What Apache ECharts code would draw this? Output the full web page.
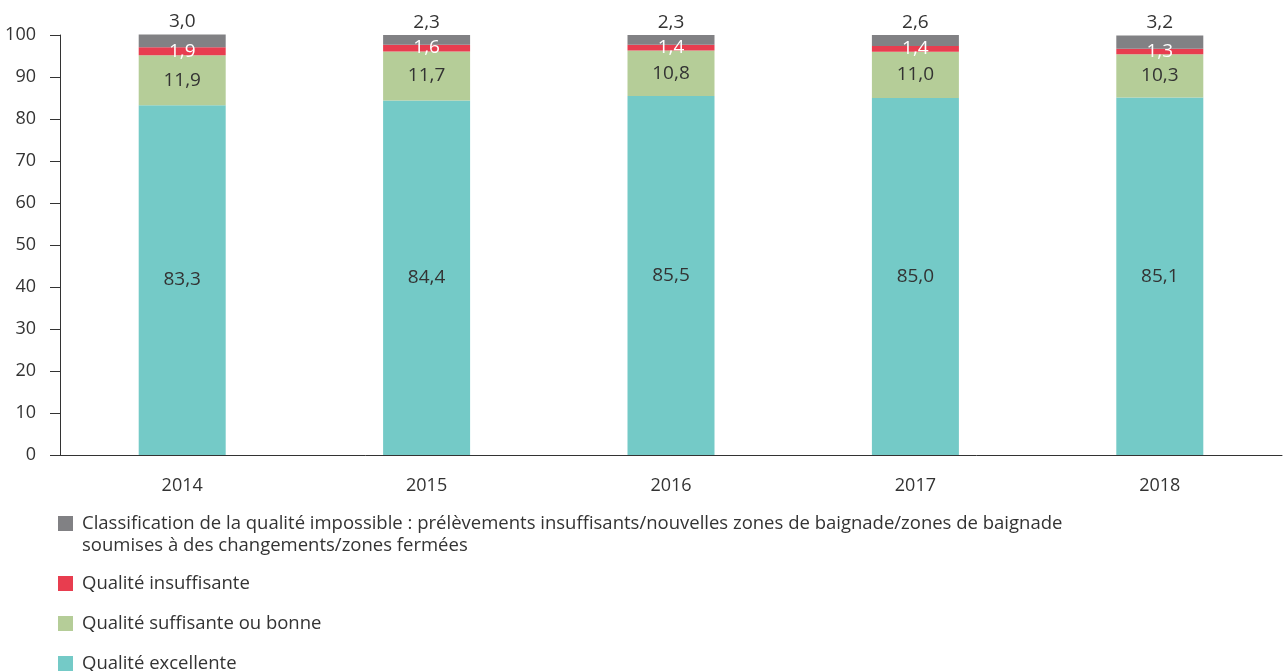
<!DOCTYPE html>
<html>
<head>
<meta charset="utf-8">
<script src="https://cdn.jsdelivr.net/npm/echarts@6/dist/echarts.min.js"></script>
<style>
  html, body { margin: 0; padding: 0; background: #fff; }
  #chart { width: 1286px; height: 671px; }
</style>
</head>
<body>
<div id="chart"></div>
<script>
var years = ['2014', '2015', '2016', '2017', '2018'];
var excellente = [83.3, 84.4, 85.5, 85.0, 85.1];
var suffisante = [11.9, 11.7, 10.8, 11.0, 10.3];
var insuffisante = [1.9, 1.6, 1.4, 1.4, 1.3];
var impossible = [3.0, 2.3, 2.3, 2.6, 3.2];

var names = [
    'Classification de la qualité impossible : prélèvements insuffisants/nouvelles zones de baignade/zones de baignade',
    'Qualité insuffisante',
    'Qualité suffisante ou bonne',
    'Qualité excellente'
];
var colors = ['#818184', '#e83d4f', '#b5cd98', '#74cac7'];

var font = '"Open Sans", "Noto Sans", sans-serif';
var fmt = function (p) { return p.value.toFixed(1).replace('.', ','); };

var myChart = echarts.init(document.getElementById('chart'));

// one legend per row, the first one has a second line of text below
function legendAt(i, top) {
    return {
        data: [names[i]],
        left: 58,
        top: top,
        padding: 0,
        itemWidth: 15,
        itemHeight: 15,
        icon: 'rect',
        selectedMode: false,
        textStyle: { fontFamily: font, fontSize: 18.5, color: '#333', padding: [0, 0, 0, 4] }
    };
}

function barSeries(i, data, label) {
    return {
        name: names[i],
        type: 'bar',
        stack: 'total',
        barWidth: 87,
        clip: false,
        itemStyle: { color: colors[i] },
        label: Object.assign({ show: true, formatter: fmt, fontFamily: font, fontSize: 19 }, label),
        data: data
    };
}

var option = {
    animation: false,
    grid: { left: 60, right: 4, top: 35, bottom: 216 },
    legend: [legendAt(0, 514), legendAt(1, 574), legendAt(2, 614), legendAt(3, 654)],
    graphic: [{
        type: 'text',
        left: 82,
        top: 536,
        style: {
            text: 'soumises à des changements/zones fermées',
            font: '18.5px ' + font,
            fill: '#333'
        }
    }],
    xAxis: {
        type: 'category',
        data: years,
        axisLine: { lineStyle: { color: '#333' } },
        axisTick: { length: 13, lineStyle: { color: '#333' } },
        axisLabel: { color: '#333', fontFamily: font, fontSize: 18, margin: 22 }
    },
    yAxis: {
        type: 'value',
        min: 0,
        max: 100,
        interval: 10,
        splitLine: { show: false },
        axisLine: { show: true, lineStyle: { color: '#333' } },
        axisTick: { show: true, length: 10, lineStyle: { color: '#333' } },
        axisLabel: { color: '#333', fontFamily: font, fontSize: 18, margin: 24 }
    },
    series: [
        barSeries(3, excellente, { position: 'inside', color: '#333' }),
        barSeries(2, suffisante, { position: 'inside', color: '#333' }),
        barSeries(1, insuffisante, { position: 'inside', color: '#fff' }),
        barSeries(0, impossible, { position: 'top', color: '#333', distance: 3 })
    ]
};

myChart.setOption(option);
</script>
</body>
</html>
